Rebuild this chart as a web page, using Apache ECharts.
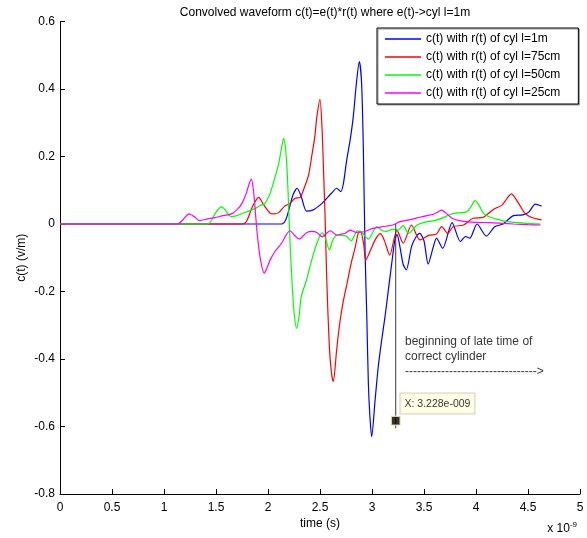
<!DOCTYPE html>
<html><head><meta charset="utf-8">
<script src="https://cdn.jsdelivr.net/npm/echarts@6/dist/echarts.min.js"></script>
<style>html,body{margin:0;padding:0;background:#fff}#c{width:587px;height:538px}</style>
</head><body><div id="c"></div>
<script>
// time in units of 1e-9 s
const seriesNames = ['c(t) with r(t) of cyl l=1m','c(t) with r(t) of cyl l=75cm','c(t) with r(t) of cyl l=50cm','c(t) with r(t) of cyl l=25cm'];
const seriesColors = ['#0000ff','#ff0000','#00ff00','#ff00ff'];

const tBlue = [0,2.13,2.17,2.20,2.24,2.28,2.32,2.37,2.43,2.50,2.55,2.61,2.66,2.70,2.725,2.757,2.79,2.82,2.85,2.878,2.90,2.917,2.933,2.95,2.965,2.98,2.997,3.03,3.06,3.093,3.125,3.157,3.19,3.22,3.24,3.27,3.30,3.33,3.38,3.42,3.46,3.50,3.54,3.59,3.62,3.68,3.77,3.85,3.90,3.94,4.01,4.10,4.18,4.26,4.36,4.45,4.51,4.57,4.63];
const vBlue = [0,0,0.012,0.041,0.086,0.106,0.081,0.038,0.041,0.056,0.071,0.091,0.106,0.096,0.12,0.19,0.249,0.318,0.417,0.481,0.417,0.219,-0.077,-0.275,-0.472,-0.571,-0.63,-0.521,-0.423,-0.344,-0.275,-0.196,-0.116,-0.047,-0.031,-0.07,-0.12,-0.136,-0.067,-0.04,-0.028,-0.05,-0.119,-0.067,-0.042,-0.072,0.004,-0.052,-0.037,-0.042,0,-0.036,-0.008,0,0.025,0.027,0.036,0.059,0.053];

const tRed = [0,1.76,1.80,1.85,1.91,1.96,2.02,2.06,2.10,2.16,2.21,2.26,2.31,2.34,2.39,2.42,2.45,2.47,2.50,2.52,2.535,2.548,2.565,2.59,2.61,2.628,2.66,2.69,2.72,2.76,2.80,2.84,2.87,2.89,2.92,2.94,2.99,3.03,3.08,3.12,3.17,3.24,3.30,3.38,3.46,3.55,3.62,3.67,3.73,3.78,3.88,3.97,4.07,4.17,4.25,4.34,4.41,4.47,4.53,4.63];
const vRed = [0,0,0.012,0.051,0.079,0.056,0.032,0.03,0.033,0.053,0.061,0.076,0.079,0.1,0.145,0.2,0.259,0.318,0.369,0.28,0.15,0.03,-0.166,-0.364,-0.44,-0.467,-0.373,-0.294,-0.235,-0.176,-0.116,-0.067,-0.024,-0.022,-0.06,-0.107,-0.075,-0.047,-0.028,-0.05,-0.092,-0.018,-0.057,-0.003,-0.047,-0.033,-0.03,-0.008,-0.028,-0.008,-0.003,0.017,0.02,0.044,0.056,0.089,0.061,0.032,0.02,0.012];

const tGreen = [0,1.42,1.46,1.50,1.55,1.58,1.62,1.65,1.70,1.76,1.84,1.90,1.93,1.96,1.99,2.02,2.05,2.10,2.13,2.15,2.17,2.185,2.20,2.21,2.23,2.25,2.276,2.30,2.32,2.37,2.42,2.47,2.52,2.55,2.59,2.62,2.66,2.75,2.80,2.86,2.90,2.965,3.045,3.10,3.14,3.20,3.25,3.30,3.35,3.43,3.50,3.60,3.68,3.75,3.82,3.91,3.95,3.99,4.03,4.07,4.12,4.17,4.30,4.49,4.62];
const vGreen = [0,0,0.012,0.035,0.051,0.045,0.028,0.022,0.025,0.032,0.041,0.05,0.056,0.057,0.071,0.09,0.12,0.175,0.225,0.254,0.22,0.15,0.04,-0.04,-0.166,-0.26,-0.309,-0.27,-0.215,-0.166,-0.107,-0.057,-0.026,-0.04,-0.077,-0.05,-0.033,-0.035,-0.05,-0.02,-0.025,-0.045,-0.008,-0.02,-0.022,-0.015,-0.018,-0.005,-0.028,-0.004,0.005,0.01,0.018,0.028,0.033,0.036,0.05,0.069,0.055,0.032,0.022,0.017,0.007,0.002,0];

const tMag = [0,1.13,1.18,1.24,1.29,1.34,1.42,1.49,1.57,1.65,1.71,1.75,1.79,1.82,1.84,1.86,1.88,1.90,1.93,1.965,1.99,2.02,2.07,2.13,2.17,2.21,2.26,2.30,2.34,2.37,2.42,2.47,2.52,2.56,2.60,2.66,2.70,2.74,2.79,2.85,2.92,3.01,3.10,3.20,3.27,3.37,3.46,3.53,3.59,3.63,3.67,3.72,3.77,3.84,3.91,4.00,4.13,4.25,4.36,4.50,4.62];
const vMag = [0,0,0.012,0.03,0.022,0.01,0.015,0.019,0.025,0.03,0.045,0.061,0.09,0.12,0.133,0.1,0.03,-0.04,-0.11,-0.146,-0.13,-0.107,-0.08,-0.057,-0.035,-0.02,-0.035,-0.045,-0.035,-0.026,-0.022,-0.025,-0.038,-0.028,-0.02,-0.033,-0.03,-0.028,-0.018,-0.025,-0.023,-0.013,-0.008,-0.003,0.007,0.013,0.02,0.025,0.029,0.035,0.041,0.03,0.017,0.01,0.007,0.005,0.004,0.002,0,-0.002,-0.003];

const cursorT = 3.228;
const cursorLineV = [0, -0.605];
const cursorMarkV = -0.583;
const noteT = 3.317, noteV = -0.326;
const noteText = 'beginning of late time of\ncorrect cylinder\n--------------------------------->';
const tipText = 'X: 3.228e-009';

const xTicks = {min:0, max:5, interval:0.5};
const yTicks = {min:-0.8, max:0.6, interval:0.2};

const FONT = 'Liberation Sans, Arial, sans-serif';
const FS = 12;
const zip = (t, v) => t.map((x, i) => [x, v[i]]);
const allT = [tBlue, tRed, tGreen, tMag];
const allV = [vBlue, vRed, vGreen, vMag];

const chart = echarts.init(document.getElementById('c'), null, {renderer: 'canvas'});
const lineSeries = seriesNames.map((n, i) => ({
  name: n, type: 'line', data: zip(allT[i], allV[i]), symbol: 'none', smooth: 0.25,
  lineStyle: {color: seriesColors[i], width: 1.2}, itemStyle: {color: seriesColors[i]},
  animation: false, z: 2 + i
}));

chart.setOption({
  animation: false,
  backgroundColor: '#fff',
  title: {text: 'Convolved waveform c(t)=e(t)*r(t) where e(t)->cyl l=1m', left: 320, textAlign: 'center', top: 2,
    textStyle: {fontFamily: FONT, fontSize: FS, fontWeight: 'normal', color: '#000'}},
  legend: {data: seriesNames, orient: 'vertical', left: 377, top: 28, padding: [5, 18, 5, 8],
    icon: 'rect', itemWidth: 36, itemHeight: 1.5, itemGap: 6,
    backgroundColor: '#fff', borderColor: '#000', borderWidth: 1,
    shadowColor: '#999', shadowOffsetX: 1, shadowOffsetY: 1, shadowBlur: 0,
    textStyle: {fontFamily: FONT, fontSize: FS, color: '#000', lineHeight: 12}},
  grid: {left: 60, right: 7, top: 21.5, bottom: 44, containLabel: false},
  xAxis: {type: 'value', min: xTicks.min, max: xTicks.max, interval: xTicks.interval,
    name: 'time (s)', nameLocation: 'middle', nameGap: 24, nameMoveOverlap: false,
    nameTextStyle: {fontFamily: FONT, fontSize: FS, color: '#000'},
    axisLine: {onZero: false, lineStyle: {color: '#000', width: 1}},
    axisTick: {inside: true, length: 5, lineStyle: {color: '#000'}},
    axisLabel: {fontFamily: FONT, fontSize: FS, color: '#000', margin: 8, formatter: v => String(+v.toFixed(1))},
    splitLine: {show: false}},
  yAxis: {type: 'value', min: yTicks.min, max: yTicks.max, interval: yTicks.interval,
    name: 'c(t) (v/m)', nameLocation: 'middle', nameGap: 32, nameMoveOverlap: false,
    nameTextStyle: {fontFamily: FONT, fontSize: FS, color: '#000'},
    axisLine: {onZero: false, lineStyle: {color: '#000', width: 1}},
    axisTick: {inside: true, length: 5, lineStyle: {color: '#000'}},
    axisLabel: {fontFamily: FONT, fontSize: FS, color: '#000', margin: 5, formatter: v => String(+v.toFixed(1))},
    splitLine: {show: false}},
  graphic: [{type: 'text', right: 10, top: 521, style: {text: 'x 10{s|-9}', fontFamily: FONT, fontSize: FS, fill: '#000',
    rich: {s: {fontSize: 8, verticalAlign: 'top', padding: [0, 0, 8, 0], fontFamily: FONT}}}}],
  series: [
    ...lineSeries,
    {name: 'cursorLine', type: 'line', data: cursorLineV.map(v => [cursorT, v]), symbol: 'none',
      lineStyle: {color: '#3a3a3a', width: 1}, z: 10, silent: true},
    {name: 'note', type: 'scatter', data: [[noteT, noteV]], symbolSize: 0, z: 11, silent: true,
      label: {show: true, position: [0, 0], align: 'left', verticalAlign: 'top', formatter: noteText,
        fontFamily: FONT, fontSize: FS, lineHeight: 15, color: '#000'}},
    {name: 'tip', type: 'scatter', data: [[cursorT, cursorMarkV]], symbol: 'rect', symbolSize: 9, z: 12, silent: true,
      itemStyle: {color: '#000', borderColor: '#f4f0c0', borderWidth: 1.5},
      label: {show: true, position: [10, -22], align: 'left', verticalAlign: 'top', formatter: tipText,
        fontFamily: FONT, fontSize: 10.5, color: '#000', backgroundColor: '#ffffe1', borderColor: '#c8c8b4', borderWidth: 1,
        padding: [5, 4, 4, 4]}}
  ]
});
</script></body></html>
